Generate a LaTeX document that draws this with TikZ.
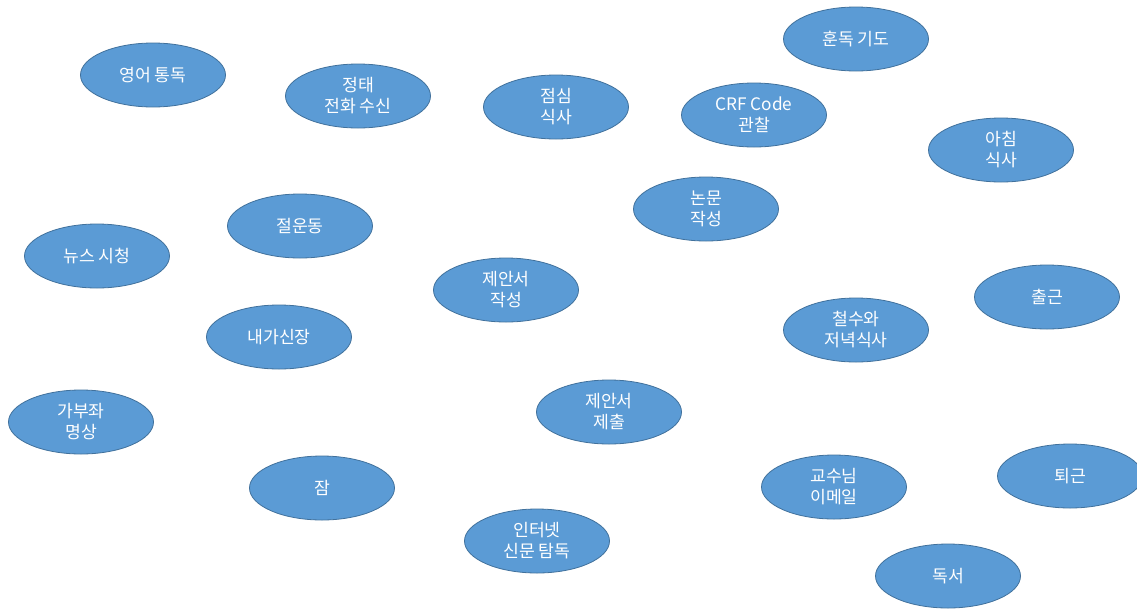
\documentclass[tikz,border=0pt]{standalone}
\usepackage{fontspec}
\setmainfont{Noto Sans CJK KR}
\definecolor{efill}{HTML}{5B9BD5}
\definecolor{eline}{HTML}{41719C}
\tikzset{
  task/.style={ellipse, draw=eline, line width=0.8pt, fill=efill, text=white,
    minimum width=145pt, minimum height=64pt, inner sep=0pt, align=center,
    font=\fontsize{17.2}{21}\selectfont}
}
\usetikzlibrary{shapes.geometric}
\begin{document}
\begin{tikzpicture}[x=1pt,y=-1pt]
\useasboundingbox (0,0) rectangle (1137,608);
\node[task] (n1) at (153,75) {영어 통독};
\node[task] (n2) at (358,96) {정태\\전화 수신};
\node[task] (n3) at (556,107) {점심\\식사};
\node[task] (n4) at (754,115) {CRF Code\\관찰};
\node[task] (n5) at (856,39) {훈독 기도};
\node[task] (n6) at (1001,150) {아침\\식사};
\node[task] (n7) at (706,209) {논문\\작성};
\node[task] (n8) at (300,226) {절운동};
\node[task] (n9) at (97,256) {뉴스 시청};
\node[task] (n10) at (506,290) {제안서\\작성};
\node[task] (n11) at (1047,297) {출근};
\node[task] (n12) at (856,330) {철수와\\저녁식사};
\node[task] (n13) at (279,337) {내가신장};
\node[task] (n14) at (81,422) {가부좌\\명상};
\node[task] (n15) at (609,412) {제안서\\제출};
\node[task] (n16) at (322,488) {잠};
\node[task] (n17) at (834,487) {교수님\\이메일};
\node[task] (n18) at (1070,476) {퇴근};
\node[task] (n19) at (537,541) {인터넷\\신문 탐독};
\node[task] (n20) at (948,576) {독서};
\end{tikzpicture}
\end{document}
